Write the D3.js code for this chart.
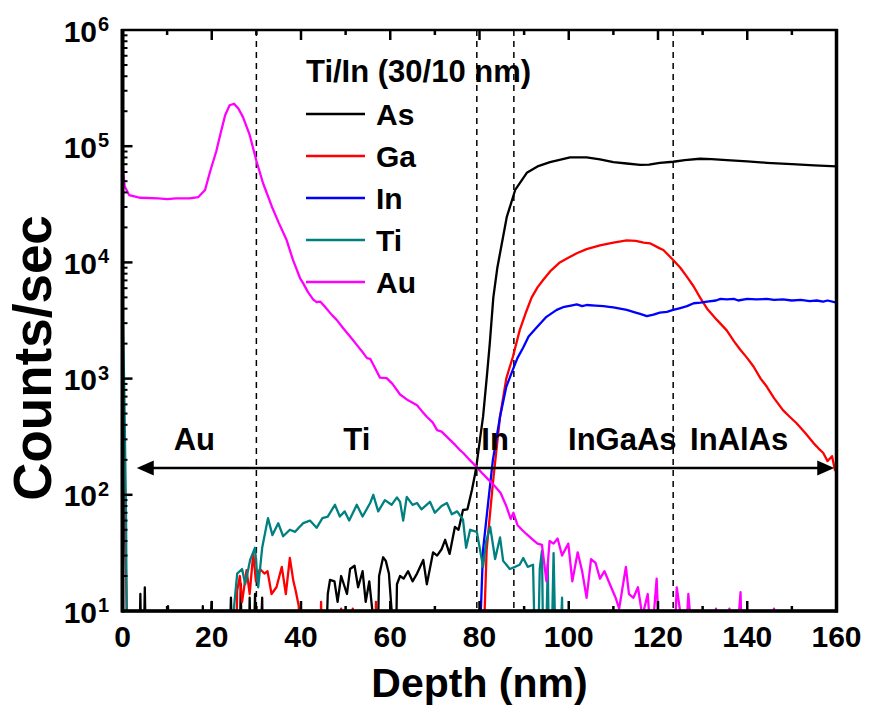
<!DOCTYPE html>
<html>
<head>
<meta charset="utf-8">
<script src="https://cdn.jsdelivr.net/npm/d3@7"></script>
<style>
  body { margin: 0; background: #fff; }
  text { font-family: "Liberation Sans", Arial, sans-serif; font-weight: bold; }
</style>
</head>
<body>
<div id="main"></div>
<script>
// depth (nm), counts/sec
var asData = [[0,1],[3.5,1],[4,14],[4.5,1],[5,16],[5.5,1],[10,1],[10.2,11],[10.5,1],[17.8,1],[18,11],[18.3,1],[20,12],[20.4,1],[23.5,1],[24.3,13],[25,1],[26,1],[26.5,17],[27,1],[28,1],[28.5,13],[29,1],[29.7,14],[30.2,1],[31.3,13],[31.7,1],[45,1],[46,14],[46.5,18.5],[47.5,18],[48.2,12],[49,20],[50.3,14],[51,23],[52,24.5],[52.8,16],[53.8,22],[54.5,12],[55.3,18],[56,10],[56.8,1],[57.5,20],[58.4,29],[59,27],[59.7,21],[60.5,8],[61,1],[61.5,17],[62.2,20],[63,19],[64,22],[65,18],[66,21],[67.4,27.5],[68.2,17],[69.6,32],[70.5,30],[71.5,34],[72.3,41],[73.3,31],[74.5,53],[75.3,50],[76.3,74],[77.3,75],[78.3,110],[79,150],[79.4,187],[80.2,320],[80.8,470],[81.7,1100],[82.3,2000],[83.1,5000],[84,9000],[84.6,12000],[86.1,24500],[88,42000],[90.6,59000],[93,67000],[95.8,73000],[100.3,80000],[104,80000],[107,77000],[110,73000],[113,71000],[116,69000],[118,69500],[120.4,72000],[123.4,73500],[126,76000],[129.4,78000],[132,77500],[135.4,76000],[140,74000],[144.4,72000],[150,70000],[155,68500],[160,67000]];

var gaData = [[0,250],[0.8,20],[1.5,1],[25.2,1],[25.7,15],[26.3,20],[26.8,12],[27.8,22.5],[28.5,14],[29.3,31.5],[29.9,18],[30.8,23],[31.8,21],[32.5,22],[33.4,14],[34.5,16],[35.7,24],[36.6,14],[37.5,28.6],[38.3,18],[38.8,15],[39.5,11],[40,1],[41,9],[41.5,1],[44,1],[44.5,12],[45,1],[48.5,1],[49,10.5],[49.5,1],[51.2,1],[51.6,10.5],[52,1],[56.2,1],[56.8,12],[57.3,1],[80.3,1],[81.6,33.5],[83,126],[84.6,470],[86,1000],[87.5,1550],[89,2600],[90.5,3800],[91.7,5000],[93,6100],[94.3,7100],[96,8500],[98,10000],[100,11000],[101.8,12000],[104,13000],[107,14000],[110,14800],[113,15500],[115,15300],[116.8,14800],[118.2,14600],[120.4,13200],[121.2,12800],[123.4,10500],[125,9000],[126.5,7500],[128,6200],[129.4,5000],[131,4000],[133.2,3200],[135.4,2600],[137,2100],[138.4,1780],[140,1500],[141.4,1270],[143,1000],[144.4,850],[146,680],[148,535],[149.5,470],[151,415],[153,340],[154.8,280],[156,250],[157,230],[158,195],[159,215],[159.7,160]];

var inData = [[79.7,1],[80.3,10],[80.8,33.5],[82,90],[83,200],[84.6,470],[86,850],[87.5,1200],[88.5,1500],[89.8,1850],[91,2300],[92.8,2750],[95,3400],[97.3,3900],[99,4150],[100.5,4250],[101.8,4350],[103,4200],[104,4300],[106,4250],[107.8,4200],[109,4150],[110,4100],[111.5,4000],[113,3900],[115,3700],[116,3600],[117.5,3450],[119,3550],[120.4,3700],[122,3750],[123.4,3900],[125,4050],[126.5,4200],[128,4450],[129.5,4500],[131,4600],[133,4700],[134,4850],[135.4,4800],[137,4850],[138,4700],[140,4850],[142,4800],[144.4,4850],[146,4750],[148,4800],[150,4700],[152,4750],[154,4650],[155.6,4700],[157,4600],[158,4700],[160,4500]];

var tiData = [[0,4500],[0.4,800],[0.8,60],[1.1,1],[24.5,1],[24.8,9],[25.7,21],[26.8,23],[27.5,17],[28.6,27.5],[29.7,35],[30.4,16],[31.3,35],[32.6,63],[33.6,45],[34.9,57],[36,44],[37.5,50],[38.7,48],[39.5,52],[40.5,57],[42,60],[43.5,52],[44.8,63],[46,65],[47.6,82],[48.7,65],[49.8,72],[50.8,60],[52.5,82],[53.8,65],[55.5,85],[56.2,100],[57.3,72],[58.8,90],[60.3,82],[61.5,95],[62.2,87],[62.9,60],[63.7,96],[65,82],[66,85],[67,75],[68.9,87],[70,70],[71.5,80],[72.7,85],[73.8,68],[75,72],[76.3,61],[77,35],[77.9,50],[79.4,48],[80.8,24],[81.5,40],[82.4,53],[83.5,28],[84.6,43],[85.3,27],[86.8,23],[88,24],[89,25],[89.8,28.6],[90.8,24],[92,25],[92.8,1],[93.5,23],[94,33],[94.5,1],[95.3,25],[95.8,1],[96.6,31.5],[97.4,1],[98.5,13],[99,1]];

var auData = [[0,69000],[0.5,45000],[1.5,38000],[4,36000],[8,35500],[10,35000],[12,35500],[15,35500],[17,36500],[18.5,42000],[19.6,60000],[21,90000],[22,130000],[23,185000],[24,225000],[25,232000],[26,210000],[27,178000],[28.5,125000],[30,75000],[31.5,48000],[33.5,30000],[35,22000],[36.8,15500],[38.2,10500],[39.8,7300],[40.5,6600],[41.5,5600],[42.7,4800],[43.5,4550],[44.3,4600],[45.5,4100],[47,3500],[48,3200],[49.5,2700],[51,2300],[52.5,1950],[54,1650],[54.8,1500],[55.5,1480],[56.5,1250],[57.7,1020],[59.2,1010],[60.5,900],[62.2,730],[64,650],[66,590],[67,530],[68.2,470],[69.5,420],[70.5,360],[71.5,350],[73.4,297],[74.5,270],[75.5,245],[76.3,230],[77.5,205],[79.4,173],[80.5,155],[82,135],[83.5,118],[84.7,104],[86,80],[87,62],[87.6,70],[88.5,55],[89.5,50],[90.5,46],[92,41],[93,38],[94,37],[95,18],[95.7,40],[96.6,38],[97.5,42],[98.5,30],[99.9,38],[100.8,18],[102,32],[103,22],[104,13],[105,28],[106,26],[107,19],[108,22],[109.5,16],[110.5,13],[111.3,10.5],[112.8,24],[113.5,14],[114.5,13],[115.5,16],[116.5,9],[117.7,14],[118.5,5],[119.7,19],[120.5,3],[122,2],[123.4,3],[124.2,16],[125.3,8],[126,4],[126.8,14],[127.8,5],[129,10],[130,3],[132,3],[133,10.5],[134,2],[136,10.5],[137,2],[138.2,10.3],[138.5,14.5],[139,2],[145.5,2],[146,10.5],[146.5,2],[159.6,2],[160,11]];

var seriesNames = ["As", "Ga", "In", "Ti", "Au"];
var seriesColors = ["#000000", "#ff0000", "#0000ff", "#008080", "#ff00ff"];
var seriesData = [asData, gaData, inData, tiData, auData];

var layerDepths = [30, 79.4, 87.7, 123.4];        // dashed boundaries
var layerNames = ["Au", "Ti", "In", "InGaAs", "InAlAs"];
var layerNameDepths = [16.1, 52.5, 83.5, 112, 138.2];
var arrowSpan = [3.2, 159.5];
var arrowLevel = 170;

var xTicks = [0, 20, 40, 60, 80, 100, 120, 140, 160];
var yExponents = [1, 2, 3, 4, 5, 6];

var W = 869, H = 711;
var pL = 122.5, pR = 836.5, pT = 30, pB = 611;

var svg = d3.select("#main").append("svg")
    .attr("width", W)
    .attr("height", H);

var x = d3.scaleLinear().domain([0, 160]).range([pL, pR]);
var y = d3.scaleLog().domain([10, 1e6]).range([pB, pT]);

svg.append("clipPath").attr("id", "plotClip")
  .append("rect")
    .attr("x", pL).attr("y", pT)
    .attr("width", pR - pL).attr("height", pB - pT);

// dashed layer boundaries
svg.selectAll(".bound").data(layerDepths).enter().append("line")
    .attr("x1", d => x(d)).attr("x2", d => x(d))
    .attr("y1", pT).attr("y2", pB)
    .attr("stroke", "#000").attr("stroke-width", 1.5)
    .attr("stroke-dasharray", "6,5");

// profiles
var line = d3.line()
    .x(d => x(d[0]))
    .y(d => y(d[1]));

var plot = svg.append("g").attr("clip-path", "url(#plotClip)");
seriesData.forEach(function(data, i) {
  plot.append("path")
      .attr("d", line(data))
      .attr("fill", "none")
      .attr("stroke", seriesColors[i])
      .attr("stroke-width", 2.3)
      .attr("stroke-linejoin", "round");
});

// double arrow
var ay = y(arrowLevel), ax1 = x(arrowSpan[0]), ax2 = x(arrowSpan[1]);
svg.append("line")
    .attr("x1", ax1 + 10).attr("x2", ax2 - 10)
    .attr("y1", ay).attr("y2", ay)
    .attr("stroke", "#000").attr("stroke-width", 2.5);
svg.append("path")
    .attr("d", "M" + ax1 + "," + ay + "L" + (ax1 + 17) + "," + (ay - 7.5) + "L" + (ax1 + 17) + "," + (ay + 7.5) + "Z")
    .attr("fill", "#000");
svg.append("path")
    .attr("d", "M" + ax2 + "," + ay + "L" + (ax2 - 17) + "," + (ay - 7.5) + "L" + (ax2 - 17) + "," + (ay + 7.5) + "Z")
    .attr("fill", "#000");

svg.selectAll(".layer").data(layerNames).enter().append("text")
    .attr("x", (d, i) => x(layerNameDepths[i]))
    .attr("y", 450)
    .attr("text-anchor", "middle")
    .attr("font-size", 31)
    .text(d => d);

// frame
svg.append("rect")
    .attr("x", pL).attr("y", pT)
    .attr("width", pR - pL).attr("height", pB - pT)
    .attr("fill", "none").attr("stroke", "#000").attr("stroke-width", 2.5);
svg.append("line").attr("x1", pL).attr("x2", pL).attr("y1", pT - 1).attr("y2", pB + 1.5)
    .attr("stroke", "#000").attr("stroke-width", 4);
svg.append("line").attr("x1", pL - 1).attr("x2", pR + 1.5).attr("y1", pB).attr("y2", pB)
    .attr("stroke", "#000").attr("stroke-width", 3.5);
svg.append("line").attr("x1", pR).attr("x2", pR).attr("y1", pT - 1).attr("y2", pB + 1.5)
    .attr("stroke", "#000").attr("stroke-width", 3.5);

// x ticks, bottom and top, pointing inward
var xMinor = d3.range(10, 160, 20);
[pB, pT].forEach(function(yy, k) {
  var dir = k === 0 ? -1 : 1;
  svg.selectAll(null).data(xTicks.slice(1, -1)).enter().append("line")
      .attr("x1", d => x(d)).attr("x2", d => x(d))
      .attr("y1", yy).attr("y2", yy + dir * 10)
      .attr("stroke", "#000").attr("stroke-width", 2.5);
  svg.selectAll(null).data(xMinor).enter().append("line")
      .attr("x1", d => x(d)).attr("x2", d => x(d))
      .attr("y1", yy).attr("y2", yy + dir * 5)
      .attr("stroke", "#000").attr("stroke-width", 2.5);
});

svg.selectAll(".xlab").data(xTicks).enter().append("text")
    .attr("x", d => x(d))
    .attr("y", 647)
    .attr("text-anchor", "middle")
    .attr("font-size", 30)
    .text(d => d);

// y ticks, log minors
var yMinor = [];
for (var e = 1; e < 6; e++) for (var m = 2; m < 10; m++) yMinor.push(m * Math.pow(10, e));
svg.selectAll(null).data(yExponents.slice(1, -1)).enter().append("line")
    .attr("x1", pL).attr("x2", pL + 10)
    .attr("y1", d => y(Math.pow(10, d))).attr("y2", d => y(Math.pow(10, d)))
    .attr("stroke", "#000").attr("stroke-width", 2.5);
svg.selectAll(null).data(yMinor).enter().append("line")
    .attr("x1", pL).attr("x2", pL + 5)
    .attr("y1", d => y(d)).attr("y2", d => y(d))
    .attr("stroke", "#000").attr("stroke-width", 2);

var ylab = svg.selectAll(".ylab").data(yExponents).enter().append("g")
    .attr("transform", d => "translate(0," + y(Math.pow(10, d)) + ")");
ylab.append("text")
    .attr("x", 97).attr("y", 11.5)
    .attr("text-anchor", "end")
    .attr("font-size", 30)
    .text("10");
ylab.append("text")
    .attr("x", 98).attr("y", 1)
    .attr("font-size", 20)
    .text(d => d);

// axis titles
svg.append("text")
    .attr("x", (pL + pR) / 2)
    .attr("y", 697)
    .attr("text-anchor", "middle")
    .attr("font-size", 41)
    .text("Depth (nm)");
svg.append("text")
    .attr("transform", "translate(51,358) rotate(-90)")
    .attr("text-anchor", "middle")
    .attr("font-size", 53)
    .text("Counts/sec");

// legend
var lg = svg.append("g");
lg.append("text")
    .attr("x", 306).attr("y", 82)
    .attr("font-size", 31)
    .text("Ti/In (30/10 nm)");
seriesNames.forEach(function(name, i) {
  var ly = 114 + i * 42;
  lg.append("line")
      .attr("x1", 306).attr("x2", 365)
      .attr("y1", ly).attr("y2", ly)
      .attr("stroke", seriesColors[i]).attr("stroke-width", 2.5);
  lg.append("text")
      .attr("x", 376).attr("y", ly + 10.5)
      .attr("font-size", 30)
      .text(name);
});
</script>
</body>
</html>
